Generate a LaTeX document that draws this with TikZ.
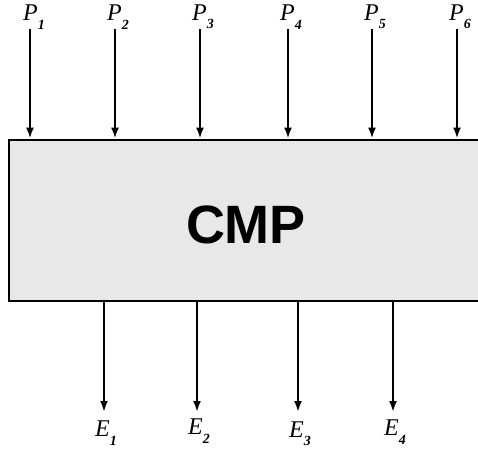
\documentclass[tikz,border=0pt]{standalone}
\usepackage{fontspec}
\setmainfont{Liberation Serif}
\newfontfamily\boxfont{Liberation Sans}
\usetikzlibrary{arrows.meta}
\newcommand{\lab}[2]{\textit{#1}\raisebox{-0.35em}{\fontsize{14}{14}\selectfont\textit{\textbf{#2}}}}
\begin{document}
\begin{tikzpicture}[
  x=1pt, y=1pt,
  every node/.style={inner sep=0pt},
  sig/.style={font=\fontsize{24}{24}\selectfont},
  feed/.style={line width=2.2pt, -{Latex[length=11pt,width=8pt]}},
  unit/.style={draw, line width=2.4pt, fill=black!9, minimum width=490pt,
    minimum height=161pt, anchor=south west}
]
\useasboundingbox (0,0) rectangle (478,450);
\node[unit] (cmp) at (8,148) {};
\node[font=\boxfont\bfseries\fontsize{54}{54}\selectfont] (title) at (246,225) {CMP};
% inputs
\coordinate (in1) at (30,421);
\coordinate (in2) at (115,421);
\coordinate (in3) at (200,421);
\coordinate (in4) at (288,421);
\coordinate (in5) at (372,421);
\coordinate (in6) at (457,421);
\node[sig] (P1) at (34,433) {\lab{P}{1}};
\node[sig] (P2) at (118,433) {\lab{P}{2}};
\node[sig] (P3) at (203,433) {\lab{P}{3}};
\node[sig] (P4) at (291,433) {\lab{P}{4}};
\node[sig] (P5) at (375,433) {\lab{P}{5}};
\node[sig] (P6) at (460,433) {\lab{P}{6}};
\draw[feed] (in1) -- (in1 |- cmp.north);
\draw[feed] (in2) -- (in2 |- cmp.north);
\draw[feed] (in3) -- (in3 |- cmp.north);
\draw[feed] (in4) -- (in4 |- cmp.north);
\draw[feed] (in5) -- (in5 |- cmp.north);
\draw[feed] (in6) -- (in6 |- cmp.north);
% outputs
\coordinate (out1) at (104,38);
\coordinate (out2) at (197,38);
\coordinate (out3) at (298,38);
\coordinate (out4) at (393,38);
\node[sig] (E1) at (106,17) {\lab{E}{1}};
\node[sig] (E2) at (199,19) {\lab{E}{2}};
\node[sig] (E3) at (300,16) {\lab{E}{3}};
\node[sig] (E4) at (395,18) {\lab{E}{4}};
\draw[feed] (out1 |- cmp.south) -- (out1);
\draw[feed] (out2 |- cmp.south) -- (out2);
\draw[feed] (out3 |- cmp.south) -- (out3);
\draw[feed] (out4 |- cmp.south) -- (out4);
\end{tikzpicture}
\end{document}
